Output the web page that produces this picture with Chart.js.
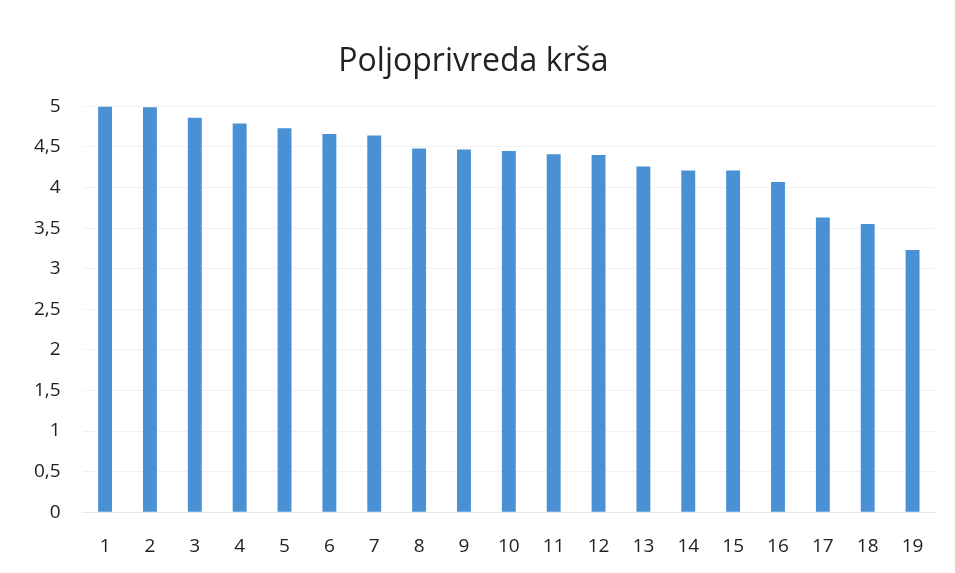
<!DOCTYPE html>
<html>
<head>
<meta charset="utf-8">
<script src="https://cdn.jsdelivr.net/npm/chart.js@4"></script>
<style>
    html, body { margin: 0; padding: 0; background: #fff; }
    #wrap { width: 955px; height: 573px; }
</style>
</head>
<body>
<div id="wrap"><canvas id="chartKrs"></canvas></div>
<script>
const kategorije = ['1', '2', '3', '4', '5', '6', '7', '8', '9', '10', '11', '12', '13', '14', '15', '16', '17', '18', '19'];
const vrijednosti = [5.0, 4.99, 4.86, 4.79, 4.73, 4.66, 4.64, 4.48, 4.47, 4.45, 4.41, 4.40, 4.26, 4.21, 4.21, 4.07, 3.63, 3.55, 3.23];
const naslov = 'Poljoprivreda krša';

const fontName = "'Open Sans', 'Liberation Sans', sans-serif";
const boja = '#4a90d4';

const ctx = document.getElementById('chartKrs');
new Chart(ctx, {
    type: 'bar',
    data: {
        labels: kategorije,
        datasets: [{
            data: vrijednosti,
            backgroundColor: boja,
            borderWidth: 0,
            barPercentage: 0.31,
            categoryPercentage: 1.0
        }]
    },
    options: {
        responsive: true,
        maintainAspectRatio: false,
        animation: false,
        layout: {
            padding: { left: 12, right: 20, top: 30, bottom: 0 }
        },
        plugins: {
            legend: { display: false },
            tooltip: { enabled: false },
            title: {
                display: true,
                text: naslov,
                color: '#222',
                font: { family: fontName, size: 32, weight: 'normal' },
                padding: { top: 13, bottom: 25 }
            }
        },
        scales: {
            x: {
                grid: { display: false },
                border: { display: true, color: '#e6e6e6' },
                ticks: {
                    color: '#222',
                    font: { family: fontName, size: 19 },
                    padding: 15,
                    maxRotation: 0
                }
            },
            y: {
                min: 0,
                max: 5,
                grid: { color: '#f1f1f1', drawTicks: false },
                border: { display: false },
                ticks: {
                    stepSize: 0.5,
                    color: '#222',
                    padding: 22,
                    font: { family: fontName, size: 19 },
                    callback: v => String(v).replace('.', ',')
                }
            }
        }
    }
});
</script>
</body>
</html>
